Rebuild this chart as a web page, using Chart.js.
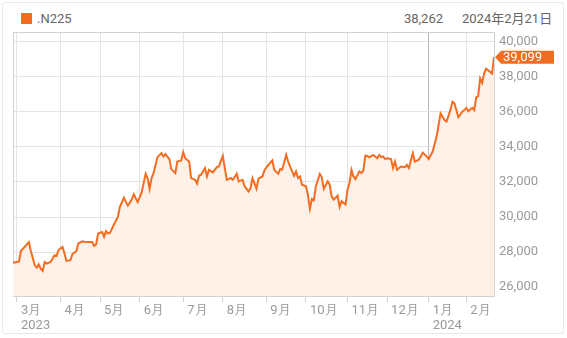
<!DOCTYPE html>
<html>
<head>
  <meta charset="UTF-8">
  <title>.N225</title>
  <script src="https://cdn.jsdelivr.net/npm/chart.js"></script>
  <style>
    body { margin: 0; width: 567px; height: 338px; position: relative; background: #fff; overflow: hidden;
           font-family: Roboto, "Noto Sans CJK JP", sans-serif; }
    .card { position: absolute; left: 2px; top: 2px; width: 560px; height: 330px; border: 1px solid #e8e8e8; border-radius: 3px; }
    .hdr { position: absolute; top: 11px; font-size: 13px; line-height: 16px; color: #666; white-space: nowrap; }
    .swatch { position: absolute; left: 21px; top: 13px; width: 11px; height: 11px; background: #f26d21; }
    canvas { position: absolute; left: 0; top: 0; }
  </style>
</head>
<body>
  <div class="card"></div>
  <div class="swatch"></div>
  <div class="hdr" style="left:37px">.N225</div>
  <div class="hdr" style="right:124px">38,262</div>
  <div class="hdr" style="left:462px">2024年2月21日</div>
  <canvas id="chart" width="567" height="338"></canvas>

  <script>
    // trading-day index (0 = late Feb 2023) and closing level
    const dayIdx = [0, 3, 4, 6, 8, 9, 11, 12, 13, 14, 15, 16, 17, 19, 21, 22, 23, 25, 26, 27,
      29, 30, 32, 33, 35, 37, 40, 41, 42, 43, 45, 46, 47, 48, 49, 51, 53, 54, 56, 58,
      60, 61, 63, 65, 67, 68, 69, 70, 71, 73, 75, 76, 77, 79, 80, 82, 83, 85, 86, 87,
      89, 90, 92, 93, 94, 95, 97, 98, 99, 101, 103, 104, 106, 107, 108, 110, 111, 112, 113, 114,
      116, 117, 119, 120, 121, 123, 124, 126, 127, 129, 131, 132, 134, 135, 136, 138, 139, 141, 142, 143,
      144, 145, 146, 148, 149, 150, 151, 152, 153, 155, 156, 157, 159, 160, 161, 162, 164, 165, 166, 168,
      169, 170, 171, 172, 173, 175, 176, 177, 178, 179, 180, 182, 184, 185, 186, 187, 188, 189, 191, 192,
      193, 194, 196, 198, 199, 200, 202, 203, 205, 206, 207, 209, 210, 212, 214, 215, 216, 218, 219, 221,
      222, 223, 224, 225, 227, 228, 229, 230, 232, 233, 234, 235, 236, 237, 238, 239, 240, 242, 243];
    const closes = [27400, 27460, 28060, 28310, 28570, 28060, 27250, 27120, 27300, 27060, 26930, 27440, 27350, 27440, 27820, 27780, 28120, 28290, 27930, 27500,
      27540, 27880, 28060, 28500, 28610, 28570, 28570, 28350, 28440, 29060, 29140, 28880, 29200, 29060, 29100, 29570, 30010, 30580, 31090, 30650,
      30990, 31300, 30850, 31400, 32460, 32220, 31600, 32220, 32500, 33410, 33640, 33450, 33580, 33300, 32730, 32500, 33160, 33220, 33690, 33350,
      33160, 32220, 32120, 31900, 32350, 32410, 32790, 32310, 32690, 32540, 32840, 32880, 33480, 32790, 32120, 32220, 32120, 32280, 32460, 32030,
      32120, 31750, 31460, 31650, 32220, 31620, 32190, 32310, 32650, 32970, 33220, 32690, 32460, 32730, 32690, 33540, 33160, 32600, 32350, 32600,
      32220, 32310, 31840, 31750, 31270, 30480, 31030, 30950, 31750, 32460, 32280, 31600, 32030, 31840, 31180, 30990, 31220, 30580, 30900, 30710,
      31560, 31940, 32690, 32310, 32160, 32600, 32500, 32650, 33500, 33480, 33400, 33540, 33350, 33540, 33410, 33450, 33300, 33350, 33300, 32790,
      33160, 32690, 32880, 32840, 32970, 32790, 33640, 33160, 33260, 33450, 33670, 33450, 33300, 33730, 34580, 35240, 35900, 35520, 35430, 36090,
      36560, 36470, 36090, 35680, 36000, 36090, 36220, 36030, 36220, 36090, 36810, 36880, 37890, 37640, 38170, 38450, 38360, 38170, 39099];

    // first trading day of each month on the axis
    const monthIdx = [2, 24, 44, 64, 86, 106, 128, 148, 169, 189, 210, 229];
    const monthLabels = [['3月', '2023'], '4月', '5月', '6月', '7月', '8月', '9月', '10月', '11月', '12月', ['1月', '2024'], '2月'];
    const yTicks = [26000, 28000, 30000, 32000, 34000, 36000, 38000, 40000];
    const lastLabel = '39,099';

    const orange = '#f26d21';

    const frame = {
      id: 'frame',
      beforeDatasetsDraw(chart) {
        const a = chart.chartArea, ctx = chart.ctx;
        ctx.save();
        ctx.strokeStyle = '#d2d2d2';
        ctx.lineWidth = 1;
        ctx.strokeRect(Math.round(a.left) + 0.5, Math.round(a.top) + 0.5, Math.round(a.width), Math.round(a.height));
        ctx.restore();
      },
      afterDatasetsDraw(chart) {
        const meta = chart.getDatasetMeta(0);
        const p = meta.data[meta.data.length - 1];
        const ctx = chart.ctx;
        const x = chart.chartArea.right + 1, y = p.y;
        ctx.save();
        ctx.fillStyle = orange;
        ctx.beginPath();
        ctx.moveTo(x, y);
        ctx.lineTo(x + 6, y - 6.5);
        ctx.lineTo(x + 59, y - 6.5);
        ctx.lineTo(x + 59, y + 6.5);
        ctx.lineTo(x + 6, y + 6.5);
        ctx.closePath();
        ctx.fill();
        ctx.fillStyle = '#fff';
        ctx.font = '13px Roboto';
        ctx.textBaseline = 'middle';
        ctx.fillText(lastLabel, x + 8, y + 0.5);
        ctx.restore();
      }
    };

    new Chart(document.getElementById('chart'), {
      type: 'line',
      data: {
        datasets: [{
          data: dayIdx.map((d, i) => ({ x: d, y: closes[i] })),
          borderColor: orange,
          borderWidth: 2,
          backgroundColor: '#fdf1e8',
          fill: 'start',
          pointRadius: 0,
          tension: 0
        }]
      },
      options: {
        responsive: false,
        animation: false,
        layout: { padding: { left: 13, top: 32, right: 0, bottom: 0 } },
        plugins: { legend: { display: false }, tooltip: { enabled: false } },
        scales: {
          x: {
            type: 'linear',
            min: 0,
            max: 243,
            afterBuildTicks: s => { s.ticks = monthIdx.map(v => ({ value: v })); },
            afterFit: s => { s.height = 42; },
            grid: {
              color: c => (c.tick && c.tick.value === 210) ? '#b8b8b8' : '#e4e4e4',
              tickColor: '#d0d0d0',
              tickLength: 6
            },
            border: { color: '#d0d0d0' },
            ticks: {
              autoSkip: false,
              maxRotation: 0,
              align: 'start',
              labelOffset: 4,
              padding: 1,
              color: '#9a9a9a',
              font: { family: 'Roboto', size: 13, lineHeight: 1.15 },
              callback: (v) => monthLabels[monthIdx.indexOf(v)]
            }
          },
          y: {
            position: 'right',
            min: 25500,
            max: 40540,
            afterBuildTicks: s => { s.ticks = yTicks.map(v => ({ value: v })); },
            afterFit: s => { s.width = 73; },
            grid: { color: '#e4e4e4', drawTicks: false },
            border: { color: '#d0d0d0' },
            ticks: {
              padding: 5,
              color: '#9a9a9a',
              font: { family: 'Roboto', size: 13 },
              callback: v => v.toLocaleString('en-US')
            }
          }
        }
      },
      plugins: [frame]
    });
  </script>
</body>
</html>
